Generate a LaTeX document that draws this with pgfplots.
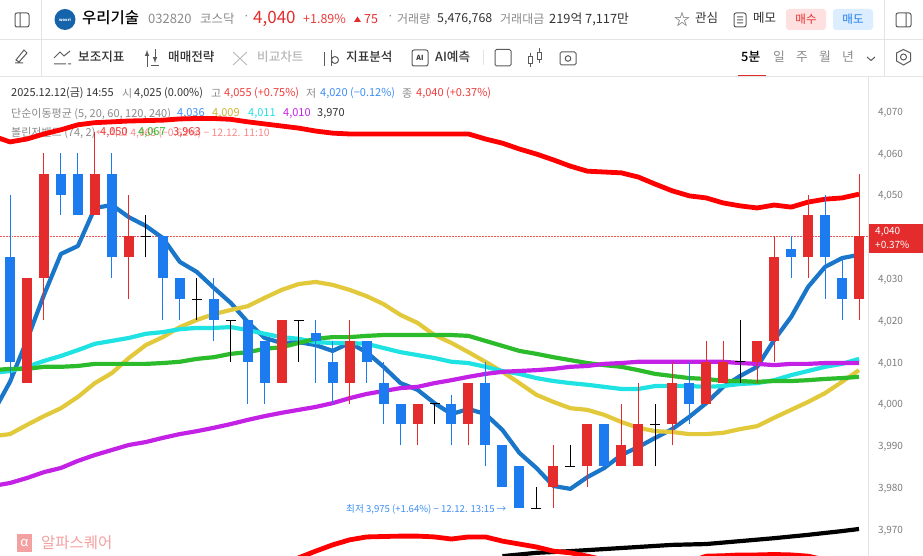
\documentclass[border=0pt]{standalone}
\usepackage{fontspec}
\setmainfont{Noto Sans CJK KR}
\newfontfamily\med{Noto Sans CJK KR Medium}
\usepackage{pgfplots}
\usepackage{pgfplotstable}
\pgfplotsset{compat=1.18}

\definecolor{upred}{HTML}{E42C2C}
\definecolor{downblue}{HTML}{1B7BEF}
\definecolor{maA}{HTML}{1976C9}
\definecolor{maB}{HTML}{E2C93C}
\definecolor{maC}{HTML}{1FE2E2}
\definecolor{maD}{HTML}{2BBB2B}
\definecolor{maE}{HTML}{C322E6}
\definecolor{txtgray}{HTML}{8A8A8A}
\definecolor{txtdark}{HTML}{333333}
\definecolor{txtblue}{HTML}{3D8EF2}
\definecolor{txtred}{HTML}{EE3B3B}
\definecolor{rulegray}{HTML}{E4E4E4}
\definecolor{icongray}{HTML}{5A5A5A}

% i, body low, body high, wick low, wick high
\pgfplotstableread{
i blo bhi wlo whi
1 4005 4030 4005 4030
2 4030 4055 4020 4060
5 4045 4055 4045 4065
7 4035 4040 4025 4050
16 4005 4020 4005 4020
20 4005 4015 4000 4020
24 3995 4000 3990 4000
27 3995 4005 3990 4005
32 3980 3985 3975 3990
34 3985 3995 3980 3995
36 3985 3990 3985 4000
37 3985 3995 3985 4005
39 3995 4005 3990 4010
41 4000 4010 4000 4015
42 4005 4010 4005 4015
44 4010 4015 4005 4015
45 4015 4035 4010 4040
47 4035 4045 4030 4050
50 4025 4040 4020 4055
}\redcandles
\pgfplotstableread{
i blo bhi wlo whi
0 4010 4035 4005 4050
3 4050 4055 4045 4060
4 4045 4055 4045 4060
6 4035 4055 4030 4060
9 4030 4040 4020 4040
10 4025 4030 4020 4030
12 4020 4025 4015 4030
14 4010 4020 4000 4020
15 4005 4015 4000 4015
18 4015 4017 4005 4020
19 4005 4010 4000 4015
21 4010 4015 4005 4015
22 4000 4005 3995 4010
23 3995 4000 3990 4000
26 3995 4000 3990 4002
28 3990 4005 3985 4010
29 3980 3990 3980 3990
30 3975 3985 3975 3985
35 3985 3995 3985 3995
40 4000 4005 3995 4010
46 4035 4037 4030 4040
48 4035 4045 4025 4050
49 4025 4030 4020 4035
}\bluecandles
% i, price, wick low, wick high
\pgfplotstableread{
i p wlo whi
8 4040 4035 4045
11 4025 4020 4030
13 4020 4010 4020
17 4020 4010 4020
25 4000 3995 4000
31 3975 3975 3980
33 3985 3985 3990
38 3995 3985 4000
43 4010 4005 4020
}\dojis

\newcommand{\lbl}[4][]{\node[anchor=west,inner sep=0pt,#1] at (#2,#3) {#4};}
\newcommand{\fs}[1]{\fontsize{#1}{#1}\selectfont}

\begin{document}
\begin{tikzpicture}
\path[use as bounding box] (0,0) rectangle (923pt,556pt);

\begin{scope}[x=1pt,y=-1pt,yshift=556pt]
% frame rules of the header
\draw[rulegray,line width=0.7pt] (0,39.5)--(923,39.5) (0,76)--(923,76) (41.5,0)--(41.5,76) (884.5,0)--(884.5,76);
% header row 1
\draw[icongray,line width=1pt,rounded corners=2pt] (15,13) rectangle (29,27) (20,13)--(20,27);
\fill[maA!85!black] (65,19.5) circle (10.5);
\node[white,font=\fs{4}\bfseries] at (65,19.5) {woori};
\lbl{82}{18}{\fs{15.5}\med 우리기술}
\lbl{148}{19}{\fs{13}\color{txtgray}032820}
\lbl{200}{19}{\fs{12.5}\color{txtgray}코스닥}
\lbl{243}{18}{\fs{12}\color{txtgray}·}
\lbl{253}{18.5}{\fs{17}\color{upred}4,040}
\lbl{303}{19}{\fs{12.5}\color{txtred}+1.89\%}
\fill[upred] (354,22)--(361,22)--(357.5,16.5)--cycle;
\lbl{364}{19}{\fs{12.5}\color{upred}75}
\lbl{387}{18}{\fs{12}\color{txtgray}·}
\lbl{397}{19}{\fs{12}\color{txtgray}거래량}
\lbl{437}{19}{\fs{12.4}\color{txtdark}5,476,768}
\lbl{500}{19}{\fs{12}\color{txtgray}거래대금}
\lbl{549}{19}{\fs{12.8}\color{txtdark}219억 7,117만}
\node[icongray,font=\fs{16}] at (682,19) {☆};
\lbl{695}{18}{\fs{12.5}\color{txtdark}관심}
\draw[icongray,line width=1pt,rounded corners=2pt] (734,13) rectangle (746,27) (737,17)--(743,17) (737,20)--(743,20) (737,23)--(743,23);
\lbl{753}{18}{\fs{12.5}\color{txtdark}메모}
\fill[red!12,rounded corners=3pt] (786,9) rectangle (826,30);
\node[font=\fs{11.5},upred] at (806,19) {매수};
\fill[blue!50!cyan!14,rounded corners=3pt] (833,9) rectangle (873,30);
\node[font=\fs{11.5},downblue] at (853,19) {매도};
\draw[icongray,line width=1pt,rounded corners=2pt] (896,13) rectangle (911,27) (906,13)--(906,27);
% header row 2
\draw[icongray,line width=1pt] (15,63)--(23,63) (16,60)--(24,50)--(27,53)--(19,62)--cycle;
\draw[icongray,line width=1pt] (54,58)--(60,52)--(64,56)--(70,51) (54,64)--(66,64) (68,64)--(71,64);
\lbl{78}{57}{\fs{12.6}\med\color{txtdark}보조지표}
\draw[icongray,line width=1pt,-latex] (147,67)--(147,50);
\draw[icongray,line width=1pt,-latex] (155,49)--(155,63);
\draw[icongray,line width=1pt] (151,66)--(159,66);
\lbl{168}{57}{\fs{12.6}\med\color{txtdark}매매전략}
\draw[black!25,line width=1pt] (233,52)--(247,65) (233,65)--(247,52);
\lbl{257}{57}{\fs{12.6}\med\color{black!28}비교차트}
\draw[icongray,line width=1pt] (324,52)--(324,66) (331,50)--(331,66);
\draw[icongray,line width=1pt] (335,60) circle (3.5);
\lbl{346}{57}{\fs{12.6}\med\color{txtdark}지표분석}
\draw[icongray,line width=1pt,rounded corners=2pt] (412,50) rectangle (428,66);
\node[font=\fs{7}\bfseries,txtdark] at (420,58) {AI};
\lbl{435}{57}{\fs{12.6}\med\color{txtdark}AI예측}
\draw[rulegray] (483,50)--(483,65);
\draw[icongray,line width=1pt,rounded corners=1.5pt] (495,49.5) rectangle (511,66);
\draw[icongray,line width=1pt] (530,53)--(530,67) (539,48)--(539,63);
\fill[white,draw=icongray] (528,56) rectangle (532,63) (537,52) rectangle (541,59);
\draw[icongray,line width=1pt,rounded corners=1.5pt] (560,52) rectangle (576,65);
\draw[icongray,line width=1pt] (568,58.5) circle (2.8);
\lbl{741}{57}{\fs{12.8}\med\color{black}5분}
\draw[upred,line width=1pt] (738,75.5)--(766,75.5);
\lbl{773}{57}{\fs{12.8}\color{txtgray}일}
\lbl{796}{57}{\fs{12.8}\color{txtgray}주}
\lbl{819}{57}{\fs{12.8}\color{txtgray}월}
\lbl{842}{57}{\fs{12.8}\color{txtgray}년}
\draw[icongray,line width=1pt] (867,57)--(871,60.5)--(875,57);
\draw[icongray,line width=1pt] (903.5,57) circle (3);
\draw[icongray,line width=1pt] (896.5,53)--(903.5,49.5)--(910.5,53)--(910.5,61)--(903.5,65)--(896.5,61)--cycle;
% legend rows, they stay under the curves
\lbl{11}{93.5}{\fs{11}\color{txtdark}2025.12.12(금) 14:55}
\lbl{122}{93.5}{\fs{11}\color{txtgray}시}
\lbl{134}{93.5}{\fs{11}\color{txtdark}4,025 (0.00\%)}
\lbl{211}{93.5}{\fs{11}\color{txtgray}고}
\lbl{224}{93.5}{\fs{11}\color{txtred}4,055 (+0.75\%)}
\lbl{306}{93.5}{\fs{11}\color{txtgray}저}
\lbl{320}{93.5}{\fs{11}\color{txtblue}4,020 (−0.12\%)}
\lbl{402}{93.5}{\fs{11}\color{txtgray}종}
\lbl{416}{93.5}{\fs{11}\color{txtred}4,040 (+0.37\%)}
\lbl{11}{114}{\fs{11}\color{txtgray}단순이동평균 (5, 20, 60, 120, 240)}
\lbl{177}{114}{\fs{11}\color{txtblue}4,036}
\lbl{212}{114}{\fs{11}\color{maB!90!black}4,009}
\lbl{248}{114}{\fs{11}\color{maC}4,011}
\lbl{283}{114}{\fs{11}\color{maE}4,010}
\lbl{317}{114}{\fs{11}\color{txtdark}3,970}
\lbl{11}{133}{\fs{11}\color{txtgray}볼린저밴드 (74, 2)}
\lbl{96}{133}{\fs{10.4}\color{txtred!60}← 최고 4,065 (−0.62\%) − 12.12. 11:10}
\lbl{100}{133}{\fs{11}\color{txtred}4,050}
\lbl{138}{133}{\fs{11}\color{maD}4,067}
\lbl{173}{133}{\fs{11}\color{txtred}3,963}
\lbl{346}{509}{\fs{9.6}\color{txtblue}최저 3,975 (+1.64\%) − 12.12. 13:15 →}
% watermark
\fill[upred!45] (17,534) rectangle (32,552);
\node[white,font=\fs{13}] at (24.5,543) {α};
\lbl{41}{543}{\fs{15.5}\color{upred!45}알파스퀘어}
\end{scope}

\begin{axis}[
    scale only axis, width=868pt, height=480pt,
    xmin=-0.589, xmax=50.53, ymin=3963.54, ymax=4078.37,
    axis x line=none, axis y line=right,
    axis line style={draw=rulegray,-},
    major tick length=0pt,
    ytick={3970,3980,3990,4000,4010,4020,4030,4040,4050,4060,4070},
    yticklabels={3{,}970,3{,}980,3{,}990,4{,}000,4{,}010,4{,}020,4{,}030,,4{,}050,4{,}060,4{,}070},
    yticklabel style={font=\fs{10},text=txtgray!90!black,xshift=6.5pt,yshift=-1.6pt},
    every axis plot/.append style={forget plot},
]
% last price line
\addplot[upred!80,line width=0.5pt,densely dotted] coordinates {(-0.589,4040) (50.53,4040)};
% 5
\addplot[maA,line width=4.2pt,line join=round] table {
-1 3997.8
0 4005.2
1 4015.2
2 4026
3 4035.8
4 4037.7
5 4046.8
6 4047.5
7 4044.6
8 4042.5
9 4039.6
10 4033.9
11 4031.5
12 4027.7
13 4024.1
14 4019.5
15 4015.7
16 4014.5
17 4014.7
18 4014
19 4012.6
20 4014.5
21 4012.3
22 4008.8
23 4004.9
24 4003.3
25 4000.1
26 3997.5
27 3998.7
28 3997.5
29 3993.7
30 3988.2
31 3984.6
32 3980.3
33 3979.6
34 3982.4
35 3984.6
36 3987.7
37 3989.6
38 3991.8
39 3993.9
40 3996.8
41 4000.1
42 4004
43 4006.6
44 4008.8
45 4015.2
46 4020.7
47 4027.9
48 4032.7
49 4034.8
50 4035.6
};
% 20
\addplot[maB,line width=4.2pt,line join=round] table {
-1 3992.2
0 3992.7
1 3994.9
2 3997
3 3998.9
4 4001.6
5 4004.9
6 4007.3
7 4010.9
8 4014
9 4015.9
10 4018.3
11 4020
12 4021.4
13 4022.4
14 4023.3
15 4025.3
16 4027.2
17 4028.6
18 4029.1
19 4028.4
20 4027.2
21 4025.7
22 4023.8
23 4021.2
24 4019.3
25 4016.4
26 4014.5
27 4012.3
28 4010
29 4007.6
30 4004.9
31 4002.1
32 4000.4
33 3998.9
34 3998.5
35 3997.3
36 3995.6
37 3994.2
38 3993.4
39 3993.2
40 3992.7
41 3992.7
42 3993
43 3993.9
44 3994.6
45 3996.6
46 3998.5
47 4000.4
48 4002.5
49 4005.2
50 4008
};
% 60
\addplot[maC,line width=4.2pt,line join=round] table {
-1 4007.3
0 4007.8
1 4008.8
2 4010.2
3 4011.4
4 4012.8
5 4014.3
6 4015
7 4015.7
8 4016.7
9 4017.1
10 4017.8
11 4018.1
12 4018.1
13 4018.3
14 4017.6
15 4016.7
16 4015.9
17 4015.5
18 4014.7
19 4014.5
20 4014.5
21 4014.3
22 4013.3
23 4012.3
24 4011.6
25 4010.9
26 4010
27 4009.7
28 4008.8
29 4007.8
30 4007.1
31 4006.1
32 4005.4
33 4004.9
34 4004.5
35 4004
36 4003.5
37 4003.5
38 4004.2
39 4004.2
40 4004.2
41 4004
42 4004.2
43 4004.7
44 4004.9
45 4005.6
46 4006.8
47 4007.8
48 4008.8
49 4009.5
50 4010.7
};
% 120
\addplot[maD,line width=4.2pt,line join=round] table {
-1 4008
0 4008.3
1 4008.3
2 4008.8
3 4008.8
4 4009
5 4009.5
6 4009.5
7 4009.5
8 4009.5
9 4009.7
10 4010
11 4010.7
12 4011.1
13 4011.9
14 4012.3
15 4013.1
16 4013.5
17 4014.5
18 4015.5
19 4015.9
20 4015.9
21 4016.2
22 4016.4
23 4016.4
24 4016.4
25 4016.4
26 4016.4
27 4016.2
28 4015
29 4013.8
30 4012.6
31 4011.9
32 4011.1
33 4010.4
34 4009.7
35 4009.2
36 4008.8
37 4008
38 4007.1
39 4006.6
40 4006.1
41 4005.9
42 4005.4
43 4005.4
44 4005.2
45 4005.4
46 4005.4
47 4005.6
48 4005.9
49 4006.1
50 4006.4
};
% 240 band colour
\addplot[maE,line width=4.2pt,line join=round] table {
-1 3980.3
0 3981
1 3982.2
2 3983.6
3 3984.6
4 3986.3
5 3987.7
6 3988.9
7 3990.1
8 3990.8
9 3991.8
10 3992.7
11 3993.4
12 3994.2
13 3995.1
14 3996.1
15 3997
16 3997.8
17 3998.5
18 3999.2
19 4000.1
20 4001.3
21 4002.3
22 4003
23 4003.7
24 4004
25 4004.9
26 4005.6
27 4006.4
28 4007.1
29 4007.6
30 4007.8
31 4008
32 4008.3
33 4008.8
34 4009
35 4009.5
36 4009.7
37 4010
38 4010
39 4010
40 4010
41 4010
42 4010
43 4009.7
44 4009.5
45 4009.2
46 4009.5
47 4009.5
48 4009.7
49 4009.7
50 4009.7
};
% black 240
\addplot[black,line width=4.2pt,line join=round] table {
29 3963.5
31 3964.3
33 3964.7
35 3965.2
37 3965.7
39 3966.2
41 3966.4
43 3967.1
45 3967.8
47 3968.6
49 3969.5
50 3970
};
% bollinger upper
\addplot[red,line width=4.8pt,line join=round] table {
-1 4064
0 4062.6
1 4063.3
2 4064.5
3 4065.5
4 4066.7
5 4067.2
6 4067.4
7 4067.6
8 4067.7
9 4067.8
10 4068.1
11 4068.2
12 4068.2
13 4068
14 4067.4
15 4066.9
16 4066.4
17 4065.9
18 4065.2
19 4064.7
20 4064.5
21 4064.5
22 4064.5
23 4064.5
24 4064.5
25 4064.5
26 4064.5
27 4064.5
28 4063.3
29 4062.3
30 4060.9
31 4059.7
32 4058.3
33 4056.8
34 4055.6
35 4055.4
36 4055.2
37 4054.2
38 4052.5
39 4050.9
40 4049.7
41 4049.2
42 4048
43 4047.3
44 4046.8
45 4047.5
46 4047
47 4048.2
48 4048.9
49 4049.2
50 4050.1
};
% bollinger lower
\addplot[red,line width=4.8pt,line join=round] table {
16 3958
17 3963.1
18 3964.7
19 3966.2
20 3967.4
21 3968.1
22 3968.2
23 3968.3
24 3968.3
25 3968.1
26 3967.6
27 3968.1
28 3968.1
29 3967.1
30 3966.4
31 3965.7
32 3964.7
33 3964.3
34 3963.5
35 3962.6
36 3961
37 3960
38 3960
39 3961
40 3962.1
41 3963.5
42 3963.6
43 3963.8
44 3963.8
45 3963.9
46 3963.8
47 3963.5
48 3962.6
49 3960
};
% wicks
\addplot[draw=none,no markers,error bars/.cd,y dir=plus,y explicit,error mark=none,error bar style={draw=upred,line width=1pt}]
    table[x=i,y=wlo,y error expr=\thisrow{whi}-\thisrow{wlo}] {\redcandles};
\addplot[draw=none,no markers,error bars/.cd,y dir=plus,y explicit,error mark=none,error bar style={draw=downblue,line width=1pt}]
    table[x=i,y=wlo,y error expr=\thisrow{whi}-\thisrow{wlo}] {\bluecandles};
\addplot[draw=none,no markers,error bars/.cd,y dir=plus,y explicit,error mark=none,error bar style={draw=black,line width=1pt}]
    table[x=i,y=wlo,y error expr=\thisrow{whi}-\thisrow{wlo}] {\dojis};
\addplot[only marks,black,mark=-,mark size=5pt,mark options={line width=0.9pt}] table[x=i,y=p] {\dojis};
% bodies
\addplot[draw=none,no markers,error bars/.cd,y dir=plus,y explicit,error mark=none,error bar style={draw=upred,line width=10pt}]
    table[x=i,y=blo,y error expr=\thisrow{bhi}-\thisrow{blo}] {\redcandles};
\addplot[draw=none,no markers,error bars/.cd,y dir=plus,y explicit,error mark=none,error bar style={draw=downblue,line width=10pt}]
    table[x=i,y=blo,y error expr=\thisrow{bhi}-\thisrow{blo}] {\bluecandles};
\end{axis}

\begin{scope}[x=1pt,y=-1pt,yshift=556pt]
\fill[upred] (869,224) rectangle (923,253);
\lbl{875}{232}{\fs{10}\color{white}4,040}
\lbl{875}{245}{\fs{10}\color{white}+0.37\%}
\end{scope}
\end{tikzpicture}
\end{document}
